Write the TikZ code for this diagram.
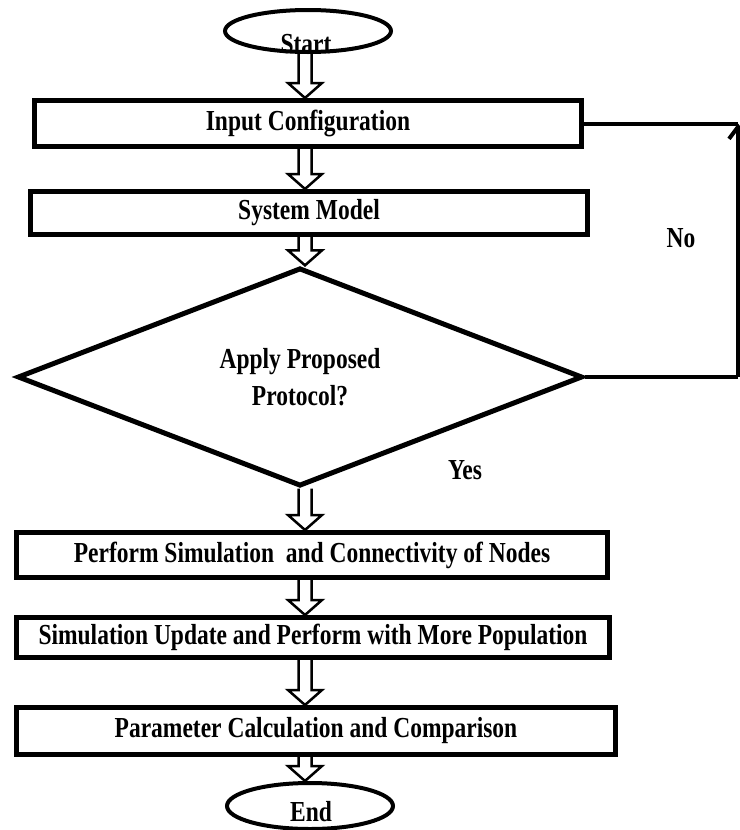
\documentclass[tikz,border=0pt]{standalone}
\usepackage{fontspec}
\setmainfont{Liberation Serif}[FakeStretch=0.81]
\usepackage{tikz}
\usetikzlibrary{shapes.geometric,arrows.meta}
\newcommand\flowfont{\bfseries\fontsize{29}{37}\selectfont}

\begin{document}
\begin{tikzpicture}[x=1pt,y=-1pt,
  box/.style={draw=black,fill=white,line width=5pt,inner sep=0pt,
              font=\flowfont},
  term/.style={draw=black,ellipse,line width=4pt,minimum width=166pt,
               minimum height=42pt,inner sep=0pt},
  decision/.style={draw=black,diamond,line width=5pt,minimum width=565pt,
                   minimum height=190pt,inner sep=0pt,align=center,font=\flowfont},
  lbl/.style={font=\flowfont,inner sep=0pt},
  blk/.style={draw=black,line width=2.5pt,line join=miter,
    to path={([xshift=-6.5pt]\tikztostart) -- ([xshift=-6.5pt,yshift=15pt]\tikztotarget)
      -- ([xshift=-17pt,yshift=15pt]\tikztotarget) -- (\tikztotarget)
      -- ([xshift=17pt,yshift=15pt]\tikztotarget) -- ([xshift=6.5pt,yshift=15pt]\tikztotarget)
      -- ([xshift=6.5pt]\tikztostart)}},
  loop/.style={draw=black,line width=4pt}]
\useasboundingbox (0,0) rectangle (739,830);
\node[term] (st) at (308,31) {};
\node[lbl]  (stt) at (306,44) {Start};
\node[box,minimum width=547pt,minimum height=46pt] (ic) at (308,123.5) {Input Configuration};
\node[box,minimum width=557pt,minimum height=43pt] (sm) at (309,213) {System Model};
\node[decision] (dm) at (300,377) {Apply Proposed\\Protocol?};
\node[box,minimum width=591pt,minimum height=45pt] (ps) at (312,555) {Perform Simulation\ \ and Connectivity of Nodes};
\node[box,minimum width=593pt,minimum height=40pt] (su) at (313,637.5) {Simulation Update and Perform with More Population};
\node[box,minimum width=599pt,minimum height=47pt] (pc) at (316,731) {Parameter Calculation and Comparison};
\node[term,minimum height=46pt] (en) at (310,806) {};
\node[lbl]  (ent) at (311,812) {End};
\node[lbl]  (no) at (681,238) {No};
\node[lbl]  (yes) at (465,470) {Yes};
% block arrows down the middle
\coordinate (ax) at (305,0);
\draw[blk] (st.south -| ax) to (ic.north -| ax);
\draw[blk] (ic.south -| ax) to (sm.north -| ax);
\draw[blk] (sm.south -| ax) to (dm.north -| ax);
\draw[blk] (dm.south -| ax) to (ps.north -| ax);
\draw[blk] (ps.south -| ax) to (su.north -| ax);
\draw[blk] (su.south -| ax) to (pc.north -| ax);
\draw[blk] (pc.south -| ax) to (en.north -| ax);
% the No branch
\coordinate (c1) at (738,377);
\coordinate (c2) at (738,123.5);
\draw[loop] (dm.east) -- (c1);
\draw[loop,-{Straight Barb[length=12pt,width=18pt]}] (c1) -- (c2);
\draw[loop] (c2) -- (ic.east);
\end{tikzpicture}
\end{document}
